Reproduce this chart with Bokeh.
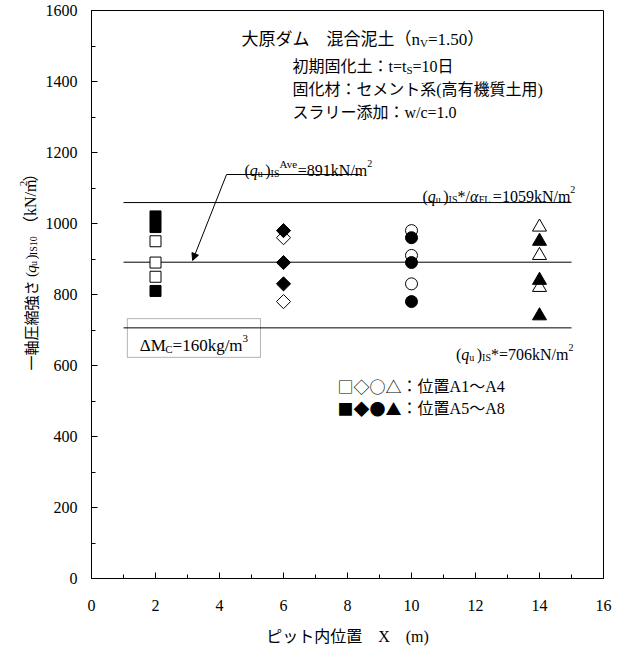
from math import pi
from bokeh.plotting import figure
from bokeh.layouts import row
from bokeh.core.properties import value
from bokeh.models import Label, Arrow, NormalHead, BoxAnnotation, Range1d, SingleIntervalTicker
from bokeh.embed import file_html
from bokeh.resources import INLINE

# ---------------- data ----------------
x_ticks_interval = 2
y_ticks_interval = 200
sq_x = 2
sq_open = [950, 890, 850]          # □ A1-A4
sq_filled = [1020, 990, 810]       # ■ A5-A8
di_x = 6
di_open = [960, 780]
di_filled = [980, 890, 830]
ci_x = 10
ci_open = [980, 910, 830]
ci_filled = [960, 890, 780]
tr_x = 14
tr_open = [990, 910, 820]
tr_filled = [950, 840, 740]

ref_values = [1059, 891, 706]     # (qu)IS*/aFL, (qu)IS Ave, (qu)IS*
ref_x_from, ref_x_to = 1, 15

SER = "Liberation Serif, Noto Sans CJK JP"
CJK = "Noto Sans CJK JP"

W = {' ': 0.25, '(': 0.333, ')': 0.333, '*': 0.5, '/': 0.278, '=': 0.564, '.': 0.25,
     'A': 0.722, 'C': 0.667, 'F': 0.556, 'I': 0.333, 'L': 0.611, 'M': 0.889, 'N': 0.722,
     'S': 0.556, 'V': 0.722, 'X': 0.722, 'c': 0.444, 'e': 0.444, 'g': 0.5, 'k': 0.5,
     'm': 0.778, 'n': 0.5, 'q': 0.5, 't': 0.278, 'u': 0.5, 'v': 0.5, 'w': 0.722,
     'α': 0.55, 'Δ': 0.612}


def tw(s, size):
    w = 0.0
    for ch in s:
        o = ord(ch)
        if o >= 0x2E80 or 0x25A0 <= o <= 0x25FF or 0xFF00 <= o <= 0xFFEF:
            w += 1.0
        elif ch.isdigit():
            w += 0.5
        else:
            w += W.get(ch, 0.5)
    return w * size


def seg(text, size=16, dy=0, font=SER, style="normal"):
    return (text, size, dy, font, style)


def rich(p, x, y, segs, align="left"):
    widths = [tw(s[0], s[1]) for s in segs]
    total = sum(widths)
    off = {"left": 0.0, "right": -total, "center": -total / 2}[align]
    for (text, size, dy, font, style), w in zip(segs, widths):
        p.add_layout(Label(x=x, y=y, x_offset=off, y_offset=dy, text=text,
                           text_font=font, text_font_size=f"{size}px",
                           text_font_style=style, text_baseline="alphabetic",
                           text_align="left", text_color="black"))
        off += w


def rich_vertical(f, x, y, segs, align="left"):
    # text reading bottom-to-top; f uses pixel data units
    pos = y
    for (text, size, dy, font, style) in segs:
        f.text(x=[x - dy], y=[pos], text=[text], angle=pi / 2,
               text_font=value(font), text_font_size=value(f"{size}px"),
               text_font_style=value(style), text_baseline="alphabetic",
               text_align=align, text_color="black")
        pos += tw(text, size)


H = 650
LAB_W = 40

p = figure(width=573, height=H, output_backend="svg", toolbar_location=None,
           x_range=Range1d(0, 16), y_range=Range1d(0, 1600),
           min_border_left=51, min_border_right=10, min_border_top=10, min_border_bottom=72)
p.background_fill_color = "white"
p.border_fill_color = "white"
p.outline_line_color = "black"
p.outline_line_width = 1
p.xgrid.visible = False
p.ygrid.visible = False

p.xaxis.ticker = SingleIntervalTicker(interval=x_ticks_interval, num_minor_ticks=2)
p.yaxis.ticker = SingleIntervalTicker(interval=y_ticks_interval, num_minor_ticks=2)
for ax in (p.xaxis, p.yaxis):
    ax.axis_line_color = "black"
    ax.major_tick_line_color = "black"
    ax.minor_tick_line_color = "black"
    ax.major_tick_in = 6
    ax.major_tick_out = 0
    ax.minor_tick_in = 4
    ax.minor_tick_out = 0
    ax.major_label_text_font = "Liberation Serif"
    ax.major_label_text_font_size = "16px"
    ax.major_label_text_color = "black"
p.yaxis.major_label_standoff = 14
p.xaxis.major_label_standoff = 21
p.xaxis.axis_label = "ピット内位置　X　(m)"
p.xaxis.axis_label_text_font = SER
p.xaxis.axis_label_text_font_size = "16px"
p.xaxis.axis_label_text_font_style = "normal"
p.xaxis.axis_label_text_color = "black"
p.xaxis.axis_label_standoff = 14

# reference lines
for v in ref_values:
    p.line([ref_x_from, ref_x_to], [v, v], line_color="black", line_width=1)


def pts(xv, vals):
    return [xv] * len(vals), vals


p.scatter(*pts(sq_x, sq_open), marker="square", size=11, fill_color="white", line_color="black", line_width=1)
p.scatter(*pts(sq_x, sq_filled), marker="square", size=11, fill_color="black", line_color="black")
p.scatter(*pts(di_x, di_open), marker="square", size=10, angle=pi / 4, fill_color="white", line_color="black", line_width=1)
p.scatter(*pts(di_x, di_filled), marker="square", size=10, angle=pi / 4, fill_color="black", line_color="black")
p.scatter(*pts(ci_x, ci_open), marker="circle", size=12, fill_color="white", line_color="black", line_width=1)
p.scatter(*pts(ci_x, ci_filled), marker="circle", size=12, fill_color="black", line_color="black")
p.scatter(*pts(tr_x, tr_open), marker="triangle", size=14, fill_color="white", line_color="black", line_width=1)
p.scatter(*pts(tr_x, tr_filled), marker="triangle", size=14, fill_color="black", line_color="black")

# leader for average
lead_top = (4.22, 1138)
lead_tip = (3.16, 896)
lead_end_x = 8.4
p.line([lead_top[0], lead_end_x], [lead_top[1], lead_top[1]], line_color="black", line_width=1)
p.add_layout(Arrow(end=NormalHead(size=7, fill_color="black", line_color="black"),
                   x_start=lead_top[0], y_start=lead_top[1], x_end=lead_tip[0], y_end=lead_tip[1],
                   line_color="black", line_width=1))

# title block
rich(p, 4.69, 1518, [seg("大原ダム　混合泥土（n", 17), seg("V", 11, -3), seg("=1.50）", 17)])
rich(p, 6.28, 1442, [seg("初期固化土：t=t"), seg("S", 11, -3), seg("=10日")])
rich(p, 6.28, 1377, [seg("固化材：セメント系(高有機質土用)")])
rich(p, 6.28, 1313, [seg("スラリー添加：w/c=1.0")])

# reference labels
rich(p, 4.78, 1149, [seg("("), seg("q", style="italic"), seg(" u", 10, -3), seg(")"),
                     seg("IS", 10, -3), seg("Ave", 11, 7), seg("=891kN/m"), seg("2", 10, 7)])
rich(p, 15.12, 1076, [seg("("), seg("q", style="italic"), seg(" u", 10, -3), seg(")"),
                      seg("IS", 10, -3), seg("*/"), seg("α", style="italic"), seg(" FL", 10, -3),
                      seg("=1059kN/m"), seg("2", 10, 7)], align="right")
rich(p, 15.06, 631, [seg("("), seg("q", style="italic"), seg(" u", 10, -3), seg(")"),
                     seg("IS", 10, -3), seg("*=706kN/m"), seg("2", 10, 7)], align="right")

# ΔMc box
p.add_layout(BoxAnnotation(left=1.12, right=5.28, bottom=623, top=732, fill_alpha=0,
                           line_color="black", line_width=1))
rich(p, 3.2, 656, [seg("ΔM", 17), seg("C", 11, -3), seg("=160kg/m", 17), seg("3", 11, 7)], align="center")

# legend text
rich(p, 7.69, 541, [seg("□◇○△", 16, 0, CJK), seg("：位置A1～A4")])
rich(p, 7.69, 479, [seg("■◆●▲", 16, 0, CJK), seg("：位置A5～A8")])

# ---------- y-axis title in a narrow companion figure (pixel coordinates) ----------
lab = figure(width=LAB_W, height=H, output_backend="svg", toolbar_location=None,
             x_range=Range1d(0, LAB_W), y_range=Range1d(0, H),
             x_axis_location=None, y_axis_location=None,
             min_border_left=0, min_border_right=0, min_border_top=0, min_border_bottom=0)
lab.outline_line_color = None
lab.xgrid.visible = False
lab.ygrid.visible = False
lab.background_fill_color = "white"
lab.border_fill_color = "white"

base_x = 30
# Japanese part ends (top) just below the symbol part
rich_vertical(lab, base_x, H - 309, [seg("一軸圧縮強さ", 15, 0, CJK)], align="right")
rich_vertical(lab, base_x, H - 305, [seg("(", 15), seg("q", 15, 0, SER, "italic"), seg(" u", 10, -3),
                                     seg(")", 15), seg("IS10", 10, -3), seg("  ", 15),
                                     seg("（kN/m", 16), seg("2", 11, 7), seg("）", 16)])

layout = row(lab, p)
open("out.html", "w").write(file_html(layout, INLINE))
